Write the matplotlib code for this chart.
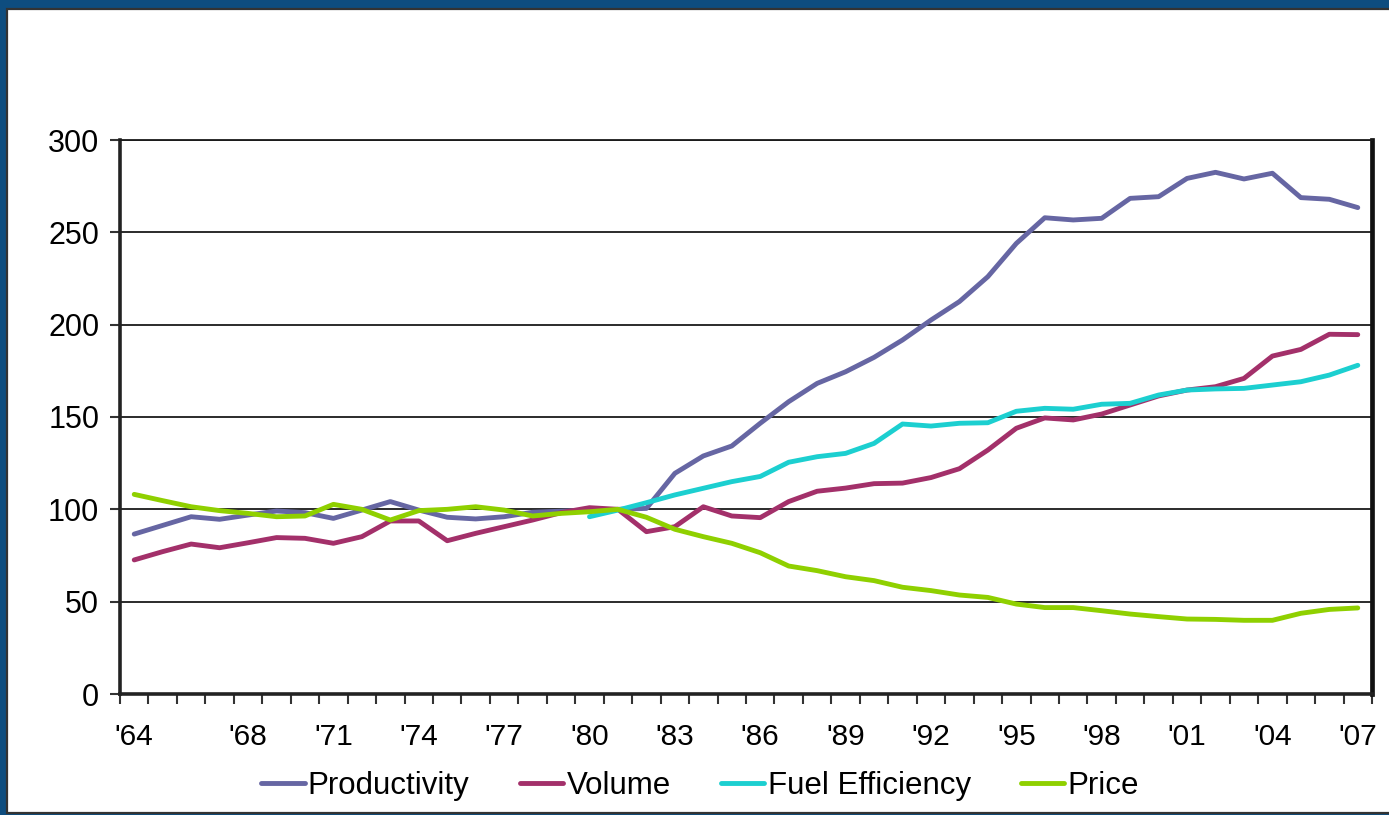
import numpy as np
import matplotlib
matplotlib.use('Agg')
import matplotlib.pyplot as plt
from matplotlib.patches import Rectangle

plt.rcParams['font.family'] = ['Liberation Sans', 'DejaVu Sans']

years = list(range(1964, 2008))
label_years = [1964, 1968, 1971, 1974, 1977, 1980, 1983, 1986, 1989,
               1992, 1995, 1998, 2001, 2004, 2007]

productivity = [86.6, 91.3, 96.0, 94.6, 96.9, 99.1, 98.2, 95.1, 99.6, 104.2,
                99.6, 95.7, 94.8, 96.0, 98.4, 99.0, 99.6, 100.0, 100.5, 119.5,
                128.9, 134.3, 146.6, 158.3, 168.2, 174.5, 182.3, 191.7, 202.5,
                212.5, 226.0, 244.0, 257.9, 256.7, 257.6, 268.4, 269.3, 279.2,
                282.5, 278.9, 282.0, 268.8, 267.9, 263.4]
volume = [72.6, 77.1, 81.2, 79.2, 81.9, 84.7, 84.3, 81.6, 85.2, 93.7,
          93.7, 83.0, 87.0, 90.6, 94.2, 98.2, 100.9, 100.0, 87.9, 90.6,
          101.4, 96.4, 95.5, 104.2, 109.8, 111.5, 113.9, 114.2, 117.2,
          122.0, 132.1, 143.9, 149.5, 148.4, 151.6, 156.5, 161.4, 164.6,
          166.4, 170.9, 183.0, 186.6, 194.8, 194.6]
# fuel efficiency series only begins in 1980
fuel_efficiency = [np.nan] * 16 + [96.0, 99.6, 103.6, 107.8, 111.4, 115.0,
                                   117.8, 125.5, 128.5, 130.3, 135.7, 146.2,
                                   145.1, 146.6, 146.9, 153.1, 154.7, 154.2,
                                   156.9, 157.4, 161.9, 164.6, 165.2, 165.5,
                                   167.3, 169.1, 172.7, 178.0]
price = [108.1, 104.7, 101.4, 99.3, 97.8, 96.0, 96.4, 102.7, 100.0, 94.2,
         99.3, 100.0, 101.4, 99.6, 96.4, 97.8, 98.7, 100.0, 95.7, 89.2,
         85.2, 81.6, 76.5, 69.3, 66.8, 63.5, 61.4, 57.8, 56.0, 53.6,
         52.3, 48.7, 46.8, 46.8, 45.1, 43.3, 41.9, 40.6, 40.4, 39.9,
         39.9, 43.7, 45.8, 46.6]

series = [('Productivity', productivity, '#6666a3'),
          ('Volume', volume, '#a3306a'),
          ('Fuel Efficiency', fuel_efficiency, '#1ccfd0'),
          ('Price', price, '#8fd000')]

W, H = 1389, 815
fig = plt.figure(figsize=(W / 100, H / 100), dpi=100, facecolor='#0e4d7f')

# white slide panel inside the blue frame, kept behind the axes
fig.patches.append(Rectangle((7 / W, 2 / H), 1.0, (806 - 2) / H,
                             transform=fig.transFigure, facecolor='white',
                             edgecolor='#333333', lw=1.6, zorder=-5))

ax = fig.add_axes([120 / W, (H - 694) / H, (1372 - 120) / W, (694 - 140) / H])
ax.set_zorder(1)
ax.set_facecolor('white')

x = np.arange(len(years))
for name, vals, color in series:
    ax.plot(x, vals, color=color, lw=3.5, label=name, solid_capstyle='round',
            solid_joinstyle='round', zorder=3)

ax.set_xlim(-0.5, len(years) - 0.5)
ax.set_ylim(0, 300)
ax.set_yticks(range(0, 301, 50))
ax.grid(axis='y', color='#1a1a1a', lw=1.3, zorder=1)

# tick marks sit on the category boundaries, labels on the centres
ax.set_xticks(np.arange(len(years) + 1) - 0.5)
ax.set_xticklabels([])
ax.set_xticks([years.index(y) for y in label_years], minor=True)
ax.set_xticklabels(["'" + str(y)[2:] for y in label_years], minor=True)
ax.tick_params(axis='x', which='major', length=7, width=1.5, color='#333333',
               direction='out')
ax.tick_params(axis='x', which='minor', length=0, pad=21, labelsize=21.5)
ax.tick_params(axis='y', length=7, width=1.5, color='#333333', pad=8,
               labelsize=22)

for side in ['left', 'bottom']:
    ax.spines[side].set_linewidth(2.6)
    ax.spines[side].set_color('#222222')
ax.spines['right'].set_linewidth(3.4)
ax.spines['right'].set_color('#111111')
ax.spines['top'].set_linewidth(1.3)
ax.spines['top'].set_color('#1a1a1a')

fig.legend(loc='center', bbox_to_anchor=(700 / W, 1 - 786 / H), ncol=4,
           frameon=False, fontsize=22.5, handlelength=1.4, handletextpad=0.1,
           columnspacing=1.6)

fig.savefig('out.png', dpi=100, facecolor=fig.get_facecolor())
